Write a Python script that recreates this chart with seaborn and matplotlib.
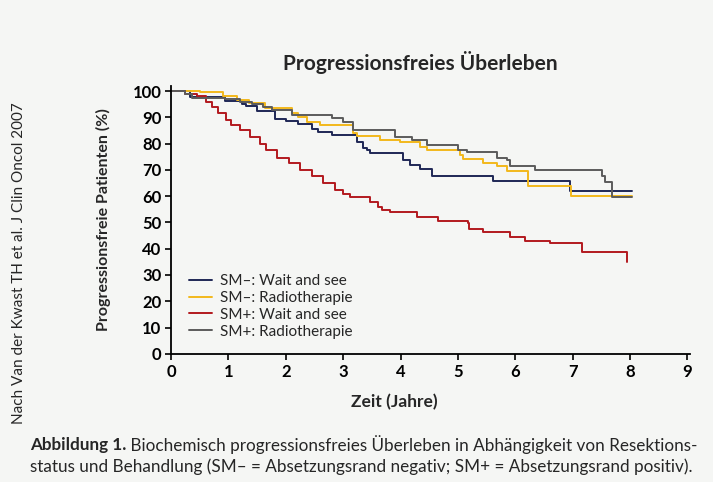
import pandas as pd
import numpy as np
import seaborn as sns
import matplotlib.pyplot as plt

sns.set_theme(style="ticks")
plt.rcParams['font.family'] = ['Lato', 'DejaVu Sans']

# Kaplan-Meier-Kurven (Zeit in Jahren, progressionsfreie Patienten in %)
t_neg_wait = [0, 0.33, 0.94, 1.24, 1.30, 1.50, 1.81, 2.00, 2.21, 2.45, 2.56, 2.80,
              3.24, 3.35, 3.41, 3.47, 4.04, 4.16, 4.34, 4.55, 5.61, 6.95, 8.03]
v_neg_wait = [100, 97.7, 96.2, 95.0, 94.5, 92.5, 89.5, 88.5, 87.5, 85.5, 84.4, 83.3,
              80.6, 78.5, 77.6, 76.4, 73.8, 71.9, 70.5, 67.5, 65.8, 61.8, 61.8]

t_neg_radio = [0, 0.5, 0.9, 1.15, 1.35, 1.64, 2.11, 2.21, 2.37, 2.60, 3.17, 3.24,
               3.64, 3.99, 4.34, 4.46, 5.03, 5.09, 5.44, 5.68, 5.85, 6.22, 6.97, 8.03]
v_neg_radio = [100, 99.5, 98, 96.5, 95.5, 93.5, 91.5, 90, 88.2, 87, 84, 83,
               81.5, 80.5, 78.7, 77.5, 75.5, 74, 72.5, 71.5, 69.5, 63.8, 60.0, 60.0]

t_pos_wait = [0, 0.25, 0.45, 0.60, 0.72, 0.82, 0.95, 1.05, 1.20, 1.38, 1.55, 1.65,
              1.85, 2.05, 2.25, 2.45, 2.65, 2.85, 3.00, 3.12, 3.47, 3.60, 3.68, 3.82,
              4.29, 4.66, 5.17, 5.20, 5.43, 5.90, 6.17, 6.60, 7.16, 7.95]
v_pos_wait = [100, 99, 98, 96, 94, 91.5, 89, 87, 85, 82.5, 80, 77.5,
              74.5, 72.5, 70, 67.5, 65, 62.5, 61, 59.7, 57.8, 56, 54.8, 54,
              52, 50.6, 49.8, 47.5, 46.4, 44.5, 43, 42, 38.8, 35]

t_pos_radio = [0, 0.24, 0.37, 0.94, 1.20, 1.41, 1.60, 1.76, 2.11, 2.80, 3.00, 3.17,
               3.90, 4.20, 4.46, 5.00, 5.16, 5.68, 5.85, 5.91, 6.34, 7.51, 7.56, 7.68, 8.03]
v_pos_radio = [100, 99, 97.5, 97, 96, 95, 94, 92.8, 90.9, 89.7, 88.2, 85,
               82.5, 81.4, 79.3, 77.6, 76.8, 74.5, 73.8, 71.5, 69.8, 67.7, 65.4, 59.7, 59.7]

gruppen = ["SM\u2013: Wait and see", "SM\u2013: Radiotherapie",
           "SM+: Wait and see", "SM+: Radiotherapie"]
farben = ["#1f2755", "#f2b81c", "#b3191f", "#5b5b5b"]

df = pd.concat([
    pd.DataFrame({"Zeit": t, "Wert": v, "Gruppe": g})
    for t, v, g in zip([t_neg_wait, t_neg_radio, t_pos_wait, t_pos_radio],
                       [v_neg_wait, v_neg_radio, v_pos_wait, v_pos_radio],
                       gruppen)
])

bg = "#f5f6f4"
fig = plt.figure(figsize=(7.13, 4.82), dpi=100, facecolor=bg)
ax = fig.add_axes([0.240, 0.266, 0.728, 0.556], facecolor=bg)

sns.lineplot(data=df, x="Zeit", y="Wert", hue="Gruppe", hue_order=gruppen,
             palette=farben, estimator=None, drawstyle="steps-post",
             linewidth=1.4, ax=ax)

ax.set_xlim(0, 9.05)
ax.set_ylim(0, 102)
ax.set_xticks(range(0, 10))
ax.set_yticks(range(0, 101, 10))
ax.tick_params(axis="both", direction="out", length=4, width=1.2, colors="black",
               labelsize=12, pad=3)
for lab in ax.get_xticklabels() + ax.get_yticklabels():
    lab.set_fontweight("bold")
for s in ["top", "right"]:
    ax.spines[s].set_visible(False)
for s in ["left", "bottom"]:
    ax.spines[s].set_linewidth(1.3)
    ax.spines[s].set_color("black")

ax.set_xlabel("Zeit (Jahre)", fontsize=12.5, fontweight="bold")
ax.xaxis.set_label_coords(0.43, -0.15)
ax.set_ylabel("Progressionsfreie Patienten (%)", fontsize=11.5, fontweight="bold")
ax.yaxis.set_label_coords(-0.115, 0.50)

ax.legend(loc="upper left", bbox_to_anchor=(0.02, 0.325), frameon=False,
          fontsize=11, handlelength=1.5, labelspacing=0.18, handletextpad=0.5,
          borderpad=0)

fig.text(0.589, 0.87, "Progressionsfreies \u00dcberleben", ha="center", va="center",
         fontsize=15, fontweight="bold")

fig.text(0.026, 0.455, "Nach Van der Kwast TH et al. J Clin Oncol 2007",
         rotation=90, ha="center", va="center", fontsize=11)

# Bildunterschrift: fetter Teil + normaler Teil in der ersten Zeile
fs = 12.3
fett = fig.text(0.042, 0.077, "Abbildung 1.", ha="left", va="center",
                fontsize=fs, fontweight="bold")
fig.canvas.draw()
bb = fett.get_window_extent(renderer=fig.canvas.get_renderer())
x_rest = bb.x1 / fig.bbox.width
fig.text(x_rest, 0.077,
         " Biochemisch progressionsfreies \u00dcberleben in Abh\u00e4ngigkeit von Resektions-",
         ha="left", va="center", fontsize=fs)
fig.text(0.042, 0.031,
         "status und Behandlung (SM\u2013 = Absetzungsrand negativ; SM+ = Absetzungsrand positiv).",
         ha="left", va="center", fontsize=fs)

fig.savefig("out.png", dpi=100, facecolor=bg)
